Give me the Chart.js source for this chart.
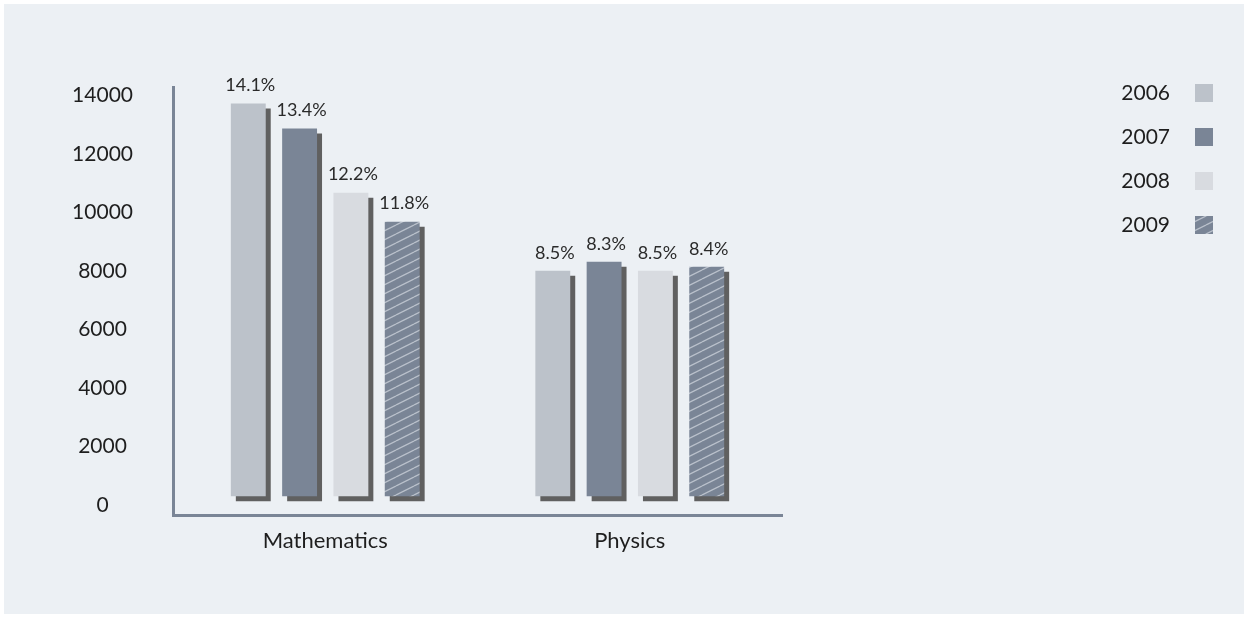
<!DOCTYPE html>
<html><head><meta charset="utf-8">
<script src="https://cdn.jsdelivr.net/npm/chart.js@4.4.1/dist/chart.umd.min.js"></script>
<style>html,body{margin:0;padding:0;background:#fff;}#wrap{width:1248px;height:618px;}</style>
</head><body><div id="wrap"><canvas id="c" width="1248" height="618"></canvas></div>
<script>
const categories = ['Mathematics', 'Physics'];
const seriesNames = ['2006', '2007', '2008', '2009'];
const values2006 = [13720, 8000];
const values2007 = [12860, 8310];
const values2008 = [10670, 8000];
const values2009 = [9680, 8140];
const share2006 = ['14.1%', '8.5%'];
const share2007 = ['13.4%', '8.3%'];
const share2008 = ['12.2%', '8.5%'];
const share2009 = ['11.8%', '8.4%'];
const yTicks = [0, 2000, 4000, 6000, 8000, 10000, 12000, 14000];

const FONT = 'Lato, "Noto Sans", sans-serif';
const canvas = document.getElementById('c');
const ctx = canvas.getContext('2d');

function makeHatch() {
  const c = document.createElement('canvas');
  c.width = 18; c.height = 9;
  const g = c.getContext('2d');
  g.fillStyle = '#7a8596'; g.fillRect(0, 0, 18, 9);
  g.strokeStyle = '#bac1cb'; g.lineWidth = 1.3;
  for (let k = -1; k <= 1; k++) {
    g.beginPath(); g.moveTo(0, 9 + 9 * k); g.lineTo(18, 9 * k); g.stroke();
  }
  return ctx.createPattern(c, 'repeat');
}

const colors = ['#bcc2ca', '#7a8596', '#d8dbe0', makeHatch()];
const allValues = [values2006, values2007, values2008, values2009];
const allShares = [share2006, share2007, share2008, share2009];

const bgPlugin = {
  id: 'bg',
  beforeDraw(chart) {
    const c = chart.ctx;
    c.save();
    c.fillStyle = '#ffffff'; c.fillRect(0, 0, chart.width, chart.height);
    c.fillStyle = '#ecf0f4'; c.fillRect(4, 4, chart.width - 8, chart.height - 8);
    c.restore();
  }
};

const shadowPlugin = {
  id: 'shadowLabels',
  beforeDatasetsDraw(chart) {
    const c = chart.ctx;
    c.save();
    c.shadowColor = '#606060';
    c.shadowOffsetX = 5; c.shadowOffsetY = 5; c.shadowBlur = 0;
  },
  afterDatasetsDraw(chart) {
    const c = chart.ctx;
    c.restore();
    c.save();
    c.font = '18px ' + FONT;
    c.fillStyle = '#2a2a2a';
    c.textAlign = 'center'; c.textBaseline = 'middle';
    chart.data.datasets.forEach((ds, i) => {
      chart.getDatasetMeta(i).data.forEach((el, j) => {
        c.fillText(allShares[i][j], el.x + 2, el.y - 18);
      });
    });
    c.restore();
  },
  afterDraw(chart) {
    const c = chart.ctx;
    c.save();
    c.font = '21px ' + FONT;
    c.textAlign = 'right'; c.textBaseline = 'middle';
    chart.data.datasets.forEach((ds, i) => {
      const y = 93 + 44 * i;
      c.fillStyle = '#1e1e1e';
      c.fillText(ds.label, 1170, y);
      c.fillStyle = ds.backgroundColor;
      c.fillRect(1195, y - 9, 18, 18);
    });
    c.restore();
  }
};

new Chart(canvas, {
  type: 'bar',
  data: {
    labels: categories,
    datasets: seriesNames.map((name, i) => ({
      label: name,
      data: allValues[i],
      backgroundColor: colors[i],
      borderWidth: 0,
      base: 300,
      categoryPercentage: 0.674,
      barPercentage: 0.68
    }))
  },
  options: {
    responsive: false,
    animation: false,
    devicePixelRatio: 1,
    layout: { padding: { left: 0, top: 87, right: 466, bottom: 0 } },
    plugins: { legend: { display: false }, tooltip: { enabled: false } },
    scales: {
      x: {
        grid: { display: false, drawTicks: false },
        border: { color: '#7a8596', width: 3 },
        ticks: { font: { family: FONT, size: 22 }, color: '#1e1e1e', padding: 13 },
        afterFit(s) { s.height = 103; }
      },
      y: {
        min: -340, max: 14280,
        afterBuildTicks(s) { s.ticks = yTicks.map(v => ({ value: v })); },
        grid: { display: false, drawTicks: false },
        border: { color: '#7a8596', width: 3 },
        ticks: {
          font: { family: FONT, size: 21 }, color: '#1e1e1e', padding: 40, crossAlign: 'center',
          callback: v => String(v)
        },
        afterFit(s) { s.width = 173; }
      }
    }
  },
  plugins: [bgPlugin, shadowPlugin]
});
</script>
</body></html>
